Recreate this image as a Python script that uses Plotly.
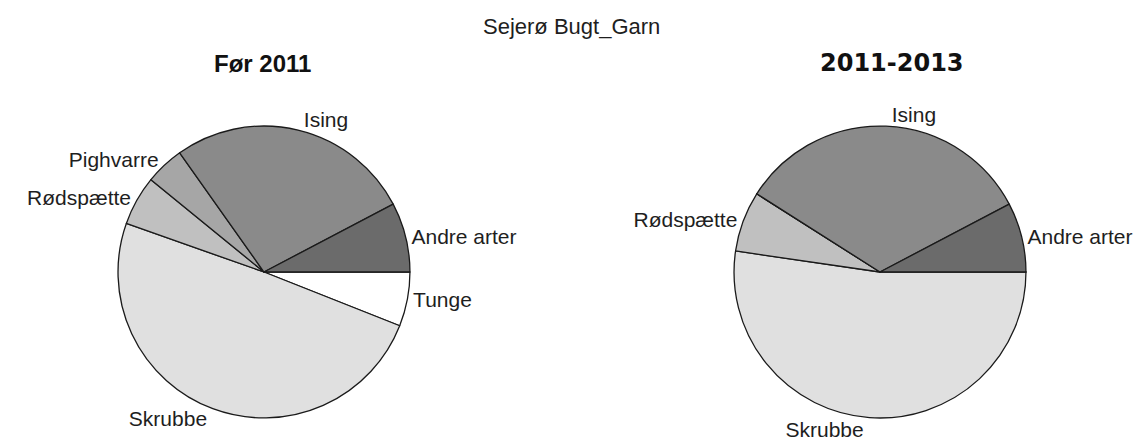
import plotly.graph_objects as go

species = ["Andre arter", "Ising", "Pighvarre", "Rødspætte", "Skrubbe", "Tunge"]
colors = ["#6b6b6b", "#8a8a8a", "#a6a6a6", "#c0c0c0", "#e0e0e0", "#ffffff"]

# percentage shares
before_2011 = [7.7, 27.1, 4.3, 5.5, 49.4, 6.0]
period_2011_2013 = [7.7, 33.3, 0.0, 6.7, 52.3, 0.0]

main_title = "Sejerø Bugt_Garn"
sub_titles = ["Før 2011", "2011-2013"]

font_family = "Liberation Sans, Arial, sans-serif"
text_color = "#1e1e1e"

fig = go.Figure()


def make_pie(values, domain_x):
    # R draws slices counterclockwise from 3 o'clock; reversing the order and
    # drawing clockwise from 3 o'clock gives the same layout in Plotly.
    labs = list(reversed(species))
    vals = list(reversed(values))
    cols = list(reversed(colors))
    txt = [s if v > 0 else "" for s, v in zip(labs, vals)]
    return go.Pie(
        labels=labs,
        values=vals,
        text=txt,
        textinfo="text",
        textposition="outside",
        sort=False,
        direction="clockwise",
        rotation=90,
        marker=dict(colors=cols, line=dict(color="#1a1a1a", width=1.3)),
        outsidetextfont=dict(family=font_family, size=21, color=text_color),
        textfont=dict(family=font_family, size=21, color=text_color),
        domain=dict(x=domain_x, y=[0.0564, 0.7156]),
        showlegend=False,
        hoverinfo="label+percent",
        automargin=False,
    )


fig.add_trace(make_pie(before_2011, [0.1028, 0.3571]))
fig.add_trace(make_pie(period_2011_2013, [0.6394, 0.8937]))

fig.update_layout(
    width=1148,
    height=443,
    margin=dict(l=0, r=0, t=0, b=0),
    paper_bgcolor="white",
    plot_bgcolor="white",
    font=dict(family=font_family, color=text_color),
    annotations=[
        dict(text=main_title, x=571 / 1148, y=1 - 27 / 443, xref="paper", yref="paper",
             showarrow=False, font=dict(size=22, family=font_family, color=text_color),
             xanchor="center", yanchor="middle"),
        dict(text="<b>" + sub_titles[0] + "</b>", x=262 / 1148, y=1 - 63 / 443,
             xref="paper", yref="paper", showarrow=False,
             font=dict(size=24, family=font_family, color="#111111"),
             xanchor="center", yanchor="middle"),
        dict(text="<b>" + sub_titles[1] + "</b>", x=892 / 1148, y=1 - 63 / 443,
             xref="paper", yref="paper", showarrow=False,
             font=dict(size=24, family="DejaVu Sans, sans-serif", color="#111111"),
             xanchor="center", yanchor="middle"),
    ],
)

fig.write_html(
    "out.html",
    config={"displayModeBar": False},
    post_script="document.body.style.margin='0';document.body.style.overflow='hidden';",
)
